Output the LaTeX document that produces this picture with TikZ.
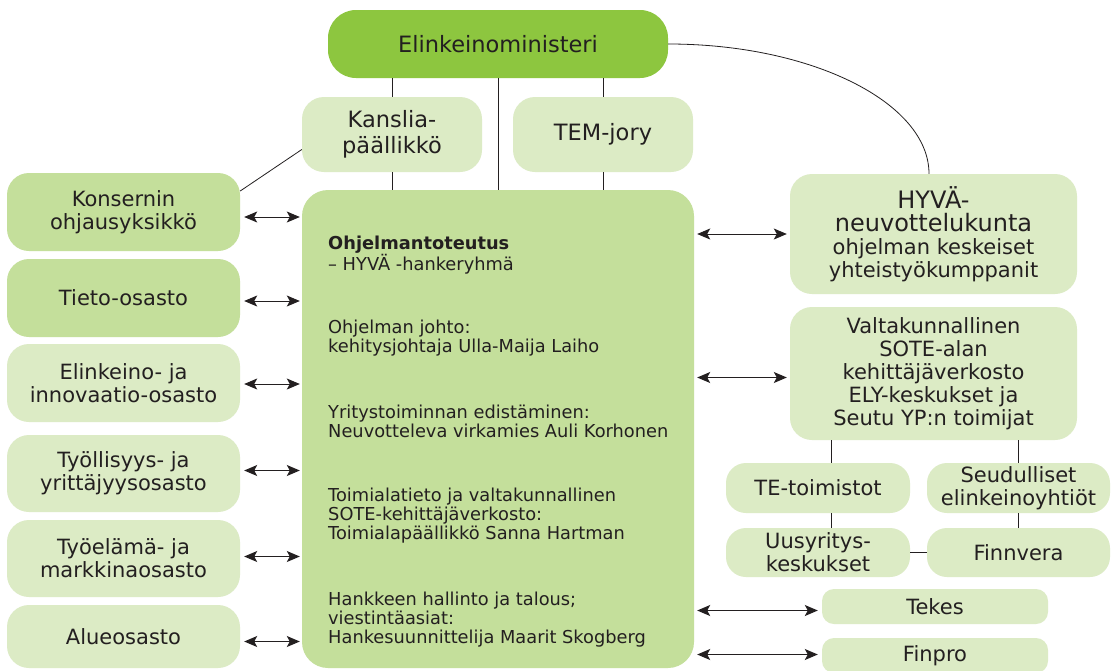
\documentclass[tikz,border=0pt]{standalone}
\usepackage{fontspec}
\setmainfont{DejaVu Sans}
\usetikzlibrary{arrows.meta}
\definecolor{gA}{HTML}{8DC63F}
\definecolor{gB}{HTML}{C4DF9B}
\definecolor{gC}{HTML}{DCEBC5}
\definecolor{tx}{HTML}{231F20}
\newcommand{\bigfs}{\fontsize{24}{27.5}\selectfont}
\newcommand{\regfs}{\fontsize{21}{23}\selectfont}
\begin{document}
\begin{tikzpicture}[x=1pt,y=-1pt,
  box/.style={rounded corners=22pt, inner sep=0pt, align=center, text=tx,
    font=\fontsize{21}{23}\selectfont},
  big/.style={font=\fontsize{22.5}{26}\selectfont},
  mtext/.style={inner sep=0pt, align=left, text=tx, anchor=north west,
    font=\fontsize{17.8}{19}\selectfont},
  link/.style={draw=tx, line width=0.8pt},
  arr/.style={draw=tx, line width=1pt, {Stealth[length=13pt,width=11pt,inset=3pt]}-{Stealth[length=13pt,width=11pt,inset=3pt]}}
]
\useasboundingbox[fill=white] (0,0) rectangle (1113,670);

% top
\node[box, big, fill=gA, minimum width=340pt, minimum height=68pt, rounded corners=28pt] (min) at (498,44) {Elinkeinoministeri};
\node[box, big, fill=gC, minimum width=180pt, minimum height=75pt] (kans) at (392,134.5) {Kanslia-\\päällikkö};
\node[box, big, fill=gC, minimum width=180pt, minimum height=75pt] (tem) at (603,134.5) {TEM-jory};

% main
\node[box, fill=gB, minimum width=392pt, minimum height=478pt, rounded corners=26pt] (main) at (498,429) {};
\node[mtext] (t1) at (328,236) {\textbf{Ohjelmantoteutus}\\– HYVÄ -hankeryhmä};
\node[mtext] (t2) at (328,320) {Ohjelman johto:\\kehitysjohtaja Ulla-Maija Laiho};
\node[mtext] (t3) at (328,405) {Yritystoiminnan edistäminen:\\Neuvotteleva virkamies Auli Korhonen};
\node[mtext] (t4) at (328,488) {Toimialatieto ja valtakunnallinen\\SOTE-kehittäjäverkosto:\\Toimialapäällikkö Sanna Hartman};
\node[mtext] (t5) at (328,592) {Hankkeen hallinto ja talous;\\viestintäasiat:\\Hankesuunnittelija Maarit Skogberg};

% left
\node[box, fill=gB, minimum width=233pt, minimum height=78pt] (kon) at (123.5,212) {Konsernin\\ohjausyksikkö};
\node[box, fill=gB, minimum width=233pt, minimum height=78pt] (tie) at (123.5,298) {Tieto-osasto};
\node[box, fill=gC, minimum width=233pt, minimum height=78pt] (eli) at (123.5,383) {Elinkeino- ja\\innovaatio-osasto};
\node[box, fill=gC, minimum width=233pt, minimum height=77pt] (tyo) at (123.5,473.5) {Työllisyys- ja\\yrittäjyysosasto};
\node[box, fill=gC, minimum width=233pt, minimum height=77pt] (tyel) at (123.5,558.5) {Työelämä- ja\\markkinaosasto};
\node[box, fill=gC, minimum width=233pt, minimum height=63pt] (alu) at (123.5,636.5) {Alueosasto};

% right
\node[box, fill=gC, minimum width=287pt, minimum height=120pt] (hyv) at (933.5,234) {\bigfs HYVÄ-\\\bigfs neuvottelukunta\\\regfs ohjelman keskeiset\\\regfs yhteistyökumppanit};
\node[box, fill=gC, minimum width=287pt, minimum height=133pt] (val) at (933.5,373.5) {Valtakunnallinen\\SOTE-alan\\kehittäjäverkosto\\ELY-keskukset ja\\Seutu YP:n toimijat};
\node[box, fill=gC, minimum width=184pt, minimum height=50pt, rounded corners=20pt] (te) at (818,488) {TE-toimistot};
\node[box, fill=gC, minimum width=183pt, minimum height=50pt, rounded corners=20pt] (seu) at (1018.5,488) {Seudulliset\\elinkeinoyhtiöt};
\node[box, fill=gC, minimum width=184pt, minimum height=49pt, rounded corners=20pt] (uus) at (818,552.5) {Uusyritys-\\keskukset};
\node[box, fill=gC, minimum width=183pt, minimum height=49pt, rounded corners=20pt] (fin) at (1018.5,552.5) {Finnvera};
\node[box, fill=gC, minimum width=226pt, minimum height=35pt, rounded corners=12pt] (tek) at (935,606.5) {Tekes};
\node[box, fill=gC, minimum width=226pt, minimum height=35pt, rounded corners=12pt] (fpro) at (935,655.5) {Finpro};

% vertical links
\draw[link] (min.south -| kans.north) -- (kans.north);
\draw[link] (kans.south) -- (kans.south |- main.north);
\draw[link] (min.south) -- (main.north);
\draw[link] (min.south -| tem.north) -- (tem.north);
\draw[link] (tem.south) -- (tem.south |- main.north);
\draw[link] ([yshift=-15pt]kans.west) -- ([yshift=21pt]kon.east);
\draw[link] (min.east) .. controls (812,44) and ([xshift=-4.5pt,yshift=71pt]hyv.north) .. ([xshift=-4.5pt]hyv.north);
\draw[link] ([xshift=13pt]te.north |- val.south) -- ([xshift=13pt]te.north);
\draw[link] ([xshift=13pt]te.south) -- ([xshift=13pt]uus.north);
\draw[link] (seu.north |- val.south) -- (seu.north);
\draw[link] (seu.south) -- (fin.north);
\draw[link] (uus.east) -- (fin.west);

% arrows left
\draw[arr] ([xshift=4pt,yshift=-5pt]kon.east) -- ([xshift=-2pt,yshift=-5pt]kon.east -| main.west);
\draw[arr] ([xshift=4pt,yshift=-3pt]tie.east) -- ([xshift=-2pt,yshift=-3pt]tie.east -| main.west);
\draw[arr] ([xshift=4pt,yshift=-1pt]eli.east) -- ([xshift=-2pt,yshift=-1pt]eli.east -| main.west);
\draw[arr] ([xshift=4pt,yshift=3pt]tyo.east) -- ([xshift=-2pt,yshift=3pt]tyo.east -| main.west);
\draw[arr] ([xshift=4pt,yshift=2pt]tyel.east) -- ([xshift=-2pt,yshift=2pt]tyel.east -| main.west);
\draw[arr] ([xshift=4pt,yshift=-5pt]alu.east) -- ([xshift=-2pt,yshift=-5pt]alu.east -| main.west);

% arrows right
\draw[arr] ([xshift=3pt]main.east |- hyv.west) -- ([xshift=-3pt]hyv.west);
\draw[arr] ([xshift=3pt,yshift=-4pt]main.east |- val.west) -- ([xshift=-3pt,yshift=-4pt]val.west);
\draw[arr] ([xshift=3pt,yshift=-4pt]main.east |- tek.west) -- ([xshift=-4pt,yshift=-4pt]tek.west);
\draw[arr] ([xshift=3pt,yshift=1pt]main.east |- fpro.west) -- ([xshift=-4pt,yshift=1pt]fpro.west);
\end{tikzpicture}
\end{document}
